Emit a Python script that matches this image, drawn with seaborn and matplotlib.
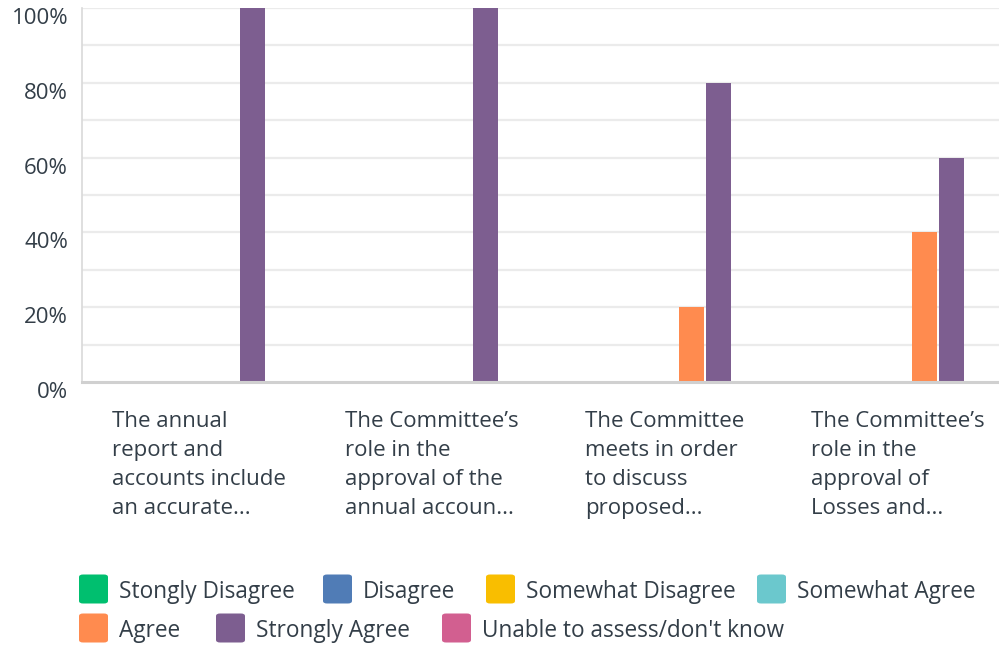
import matplotlib
matplotlib.use("Agg")
import matplotlib.pyplot as plt
from matplotlib.patches import FancyBboxPatch
from matplotlib.transforms import ScaledTranslation
import seaborn as sns
import pandas as pd

# Survey questions (x categories)
questions = [
    "The annual\nreport and\naccounts include\nan accurate...",
    "The Committee\u2019s\nrole in the\napproval of the\nannual accoun...",
    "The Committee\nmeets in order\nto discuss\nproposed...",
    "The Committee\u2019s\nrole in the\napproval of\nLosses and...",
]

# Response options (hue levels)
responses = [
    "Stongly Disagree", "Disagree", "Somewhat Disagree", "Somewhat Agree",
    "Agree", "Strongly Agree", "Unable to assess/don't know",
]
colors = ["#00bf6f", "#507cb6", "#f9be00", "#6bc8cd", "#ff8b4f", "#7d5e90", "#d25f90"]

# Percentage of respondents per response, one list per question
q1_values = [0, 0, 0, 0, 0, 100, 0]
q2_values = [0, 0, 0, 0, 0, 100, 0]
q3_values = [0, 0, 0, 0, 20, 80, 0]
q4_values = [0, 0, 0, 0, 40, 60, 0]

y_ticks = [0, 20, 40, 60, 80, 100]
y_tick_labels = ["0%", "20%", "40%", "60%", "80%", "100%"]

rows = []
for q, vals in zip(questions, [q1_values, q2_values, q3_values, q4_values]):
    for r, v in zip(responses, vals):
        rows.append({"question": q, "response": r, "pct": v})
df = pd.DataFrame(rows)

sns.set_theme(style="white")
plt.rcParams["font.family"] = ["Open Sans", "DejaVu Sans"]
TXT = "#333e48"

W, H = 999, 645
fig = plt.figure(figsize=(W / 100, H / 100), dpi=100)
fig.patch.set_facecolor("white")

x0, x1 = 82, 1014
y_top, y_bot = 8, 382
ax = fig.add_axes([x0 / W, (H - y_bot) / H, (x1 - x0) / W, (y_bot - y_top) / H])

sns.barplot(
    data=df, x="question", y="pct", hue="response",
    hue_order=responses, order=questions, palette=colors,
    width=0.81, gap=0.07, legend=False, ax=ax, saturation=1,
    linewidth=0,
)

ax.set_ylim(0, 100)
ax.set_xlim(-0.5, len(questions) - 0.5)
ax.set_xlabel("")
ax.set_ylabel("")

# Light grid every 10%
for g in range(10, 101, 10):
    ax.axhline(g, color="#ebebeb", lw=1.6, zorder=0)
ax.set_axisbelow(True)

for s in ["top", "right"]:
    ax.spines[s].set_visible(False)
ax.spines["left"].set_color("#d9d9d9")
ax.spines["left"].set_linewidth(1.2)
ax.spines["bottom"].set_color("#d0d0d0")
ax.spines["bottom"].set_linewidth(2.2)

ax.set_yticks(y_ticks)
ax.set_yticklabels(y_tick_labels, fontsize=16, color=TXT)
ax.tick_params(axis="y", length=0, pad=10)
for lbl in ax.get_yticklabels():
    lbl.set_transform(lbl.get_transform() + ScaledTranslation(0, -0.08, fig.dpi_scale_trans))

ax.set_xticks(range(len(questions)))
ax.set_xticklabels(questions, fontsize=16, color=TXT, multialignment="left",
                   linespacing=1.49, va="top")
ax.tick_params(axis="x", length=0, pad=21)

# Legend below the chart, laid out in two flowing rows
legend_rows = [responses[:4], responses[4:]]
row_starts = [[79, 323, 486, 757], [79, 216, 442]]
row_centers = [589, 628]
sq = 29
for row, starts, yc in zip(legend_rows, row_starts, row_centers):
    for name, x in zip(row, starts):
        c = colors[responses.index(name)]
        patch = FancyBboxPatch(
            (x / W, (H - yc - sq / 2) / H), sq / W, sq / H,
            boxstyle="round,pad=0,rounding_size=0.004",
            transform=fig.transFigure, facecolor=c, edgecolor="none",
        )
        fig.add_artist(patch)
        fig.text((x + sq + 11) / W, (H - yc) / H, name, fontsize=16.3,
                 color=TXT, va="center_baseline", ha="left")

fig.savefig("out.png", dpi=100, facecolor="white")
